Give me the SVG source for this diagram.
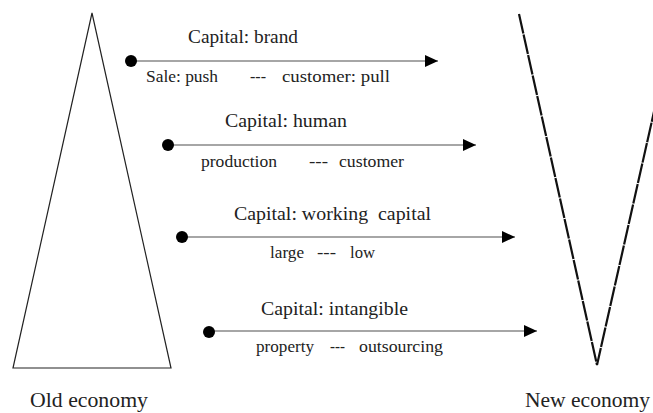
<svg xmlns="http://www.w3.org/2000/svg" width="653" height="413" viewBox="0 0 653 413">
<style>
text{font-family:"Liberation Serif","Times New Roman",serif;fill:#222}
.cap{font-size:18.5px}
.sub{font-size:16px}
.big{font-size:21px}
.ln{stroke:#888;stroke-width:1.5;fill:none}
.dot{fill:#000}
</style>
<defs>
<marker id="ah" markerWidth="14" markerHeight="12" refX="13" refY="6" orient="auto" markerUnits="userSpaceOnUse">
<path d="M0,0 L13,6 L0,12 Z" fill="#000"/>
</marker>
</defs>
<rect width="653" height="413" fill="#fff"/>
<g id="old-economy">
<path d="M92,13 L13,368 L171,368 Z" fill="none" stroke="#222" stroke-width="1.2"/>
<text class="big" x="30" y="407" textLength="118" lengthAdjust="spacingAndGlyphs">Old economy</text>
</g>
<g id="new-economy">
<path d="M519,14 L597,365 L678,5" fill="none" stroke="#111" stroke-width="2.2" stroke-dasharray="20 1"/>
<text class="big" x="525" y="407" textLength="125" lengthAdjust="spacingAndGlyphs">New economy</text>
</g>
<g id="connectors">
<line class="ln" x1="131" y1="61" x2="438" y2="61" marker-end="url(#ah)"/>
<line class="ln" x1="168" y1="145" x2="476" y2="145" marker-end="url(#ah)"/>
<line class="ln" x1="182" y1="237" x2="515" y2="237" marker-end="url(#ah)"/>
<line class="ln" x1="209" y1="331" x2="537" y2="331" marker-end="url(#ah)"/>
<circle class="dot" cx="131" cy="61" r="6"/>
<circle class="dot" cx="168" cy="145" r="6"/>
<circle class="dot" cx="182" cy="237" r="6"/>
<circle class="dot" cx="209" cy="332" r="6"/>
</g>
<g id="brand">
<text class="cap" x="188" y="43" textLength="110" lengthAdjust="spacingAndGlyphs">Capital: brand</text>
<text class="sub" x="146" y="82" textLength="72" lengthAdjust="spacingAndGlyphs">Sale: push</text>
<text class="sub" x="250" y="82" textLength="16" lengthAdjust="spacingAndGlyphs">---</text>
<text class="sub" x="282" y="82" textLength="108" lengthAdjust="spacingAndGlyphs">customer: pull</text>
</g>
<g id="human">
<text class="cap" x="225" y="127" textLength="122" lengthAdjust="spacingAndGlyphs">Capital: human</text>
<text class="sub" x="201" y="167" textLength="76" lengthAdjust="spacingAndGlyphs">production</text>
<text class="sub" x="309" y="167" textLength="19" lengthAdjust="spacingAndGlyphs">---</text>
<text class="sub" x="339" y="167" textLength="65" lengthAdjust="spacingAndGlyphs">customer</text>
</g>
<g id="working">
<text class="cap" x="234" y="220" textLength="197" lengthAdjust="spacingAndGlyphs" xml:space="preserve">Capital: working  capital</text>
<text class="sub" x="270" y="258" textLength="34" lengthAdjust="spacingAndGlyphs">large</text>
<text class="sub" x="317" y="258" textLength="19" lengthAdjust="spacingAndGlyphs">---</text>
<text class="sub" x="350" y="258" textLength="25" lengthAdjust="spacingAndGlyphs">low</text>
</g>
<g id="intangible">
<text class="cap" x="261" y="315" textLength="147" lengthAdjust="spacingAndGlyphs">Capital: intangible</text>
<text class="sub" x="256" y="352" textLength="58" lengthAdjust="spacingAndGlyphs">property</text>
<text class="sub" x="330" y="352" textLength="15" lengthAdjust="spacingAndGlyphs">---</text>
<text class="sub" x="359" y="352" textLength="84" lengthAdjust="spacingAndGlyphs">outsourcing</text>
</g>
</svg>
